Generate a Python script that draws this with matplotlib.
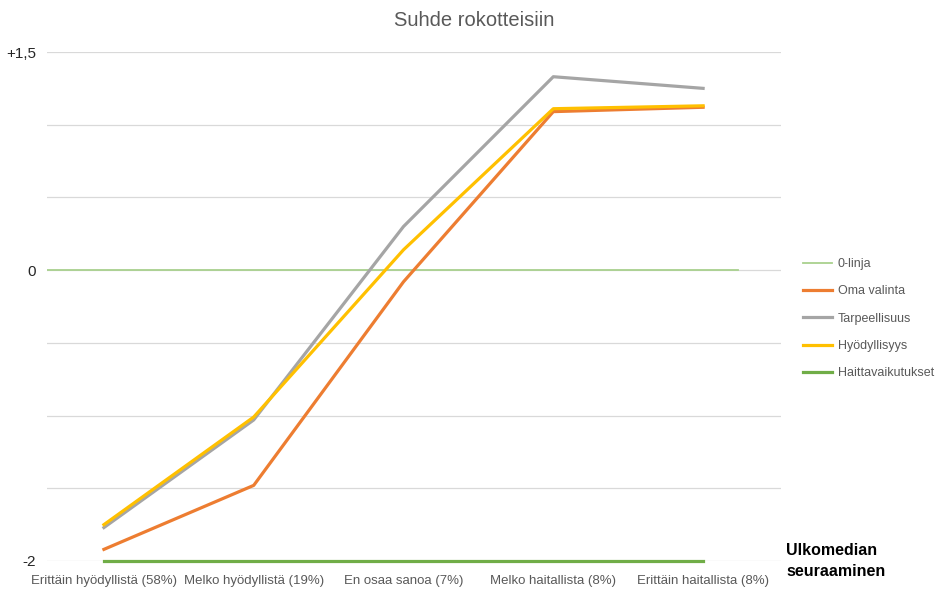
import matplotlib
matplotlib.use("Agg")
import matplotlib.pyplot as plt
from matplotlib.ticker import FixedLocator, FixedFormatter

plt.rcParams['font.family'] = ['Liberation Sans', 'DejaVu Sans']

# Answer categories on the x axis
categories = [
    'Erittäin hyödyllistä (58%)',
    'Melko hyödyllistä (19%)',
    'En osaa sanoa (7%)',
    'Melko haitallista (8%)',
    'Erittäin haitallista (8%)',
]

# Series values per category
oma_valinta = [-1.92, -1.48, -0.08, 1.09, 1.12]
tarpeellisuus = [-1.77, -1.03, 0.30, 1.33, 1.25]
hyodyllisyys = [-1.75, -1.01, 0.14, 1.11, 1.13]
haittavaikutukset = [-2.0, -2.0, -2.0, -2.0, -2.0]
zero_level = 0.0

y_ticks = [-2.0, -1.5, -1.0, -0.5, 0.0, 0.5, 1.0, 1.5]
y_labels = ['-2', '', '', '', '0', '', '', '+1,5']

COLORS = {
    'zero': '#a9d18e',
    'oma': '#ed7d31',
    'tarp': '#a5a5a5',
    'hyod': '#ffc000',
    'haitta': '#70ad47',
}
TEXT_GRAY = '#595959'

fig = plt.figure(figsize=(9.42, 5.91), dpi=100)
ax = fig.add_axes([47 / 942, 1 - 561 / 591, (781 - 47) / 942, (561 - 52) / 591])

x = list(range(len(categories)))

ax.axhline(zero_level, xmin=0, xmax=(738 - 47) / (781 - 47), color=COLORS['zero'],
           lw=1.3, label='0-linja', zorder=3)
ax.plot(x, oma_valinta, color=COLORS['oma'], lw=2.3, label='Oma valinta', zorder=4)
ax.plot(x, tarpeellisuus, color=COLORS['tarp'], lw=2.3, label='Tarpeellisuus', zorder=5)
ax.plot(x, hyodyllisyys, color=COLORS['hyod'], lw=2.3, label='Hyödyllisyys', zorder=6)
ax.plot(x, haittavaikutukset, color=COLORS['haitta'], lw=2.3, label='Haittavaikutukset',
        zorder=7, clip_on=False)

ax.set_xlim(-0.38, 4.52)
ax.set_ylim(-2.0, 1.5)

ax.yaxis.set_major_locator(FixedLocator(y_ticks))
ax.yaxis.set_major_formatter(FixedFormatter(y_labels))
ax.set_xticks(x)
ax.set_xticklabels(categories, fontsize=9.5, color=TEXT_GRAY)
ax.tick_params(axis='y', length=0, labelsize=11, colors='#262626', pad=8)
ax.tick_params(axis='x', length=0, pad=10)

ax.grid(axis='y', color='#d9d9d9', lw=0.9, zorder=0)
ax.set_axisbelow(True)
for s in ax.spines.values():
    s.set_visible(False)

fig.text(474 / 942, 1 - 21 / 591, 'Suhde rokotteisiin', ha='center', va='center',
         fontsize=14.5, color=TEXT_GRAY)

leg = fig.legend(loc='upper left', bbox_to_anchor=(797 / 942, 1 - 252 / 591),
                 frameon=False, fontsize=9, labelspacing=1.22, handlelength=2.3,
                 handletextpad=0.45, labelcolor=TEXT_GRAY, borderpad=0)

fig.text(786 / 942, 1 - 561 / 591, 'Ulkomedian\nseuraaminen', ha='left', va='center',
         fontsize=11.5, fontweight='bold', color='black', linespacing=1.5)

fig.savefig('out.png', dpi=100)
